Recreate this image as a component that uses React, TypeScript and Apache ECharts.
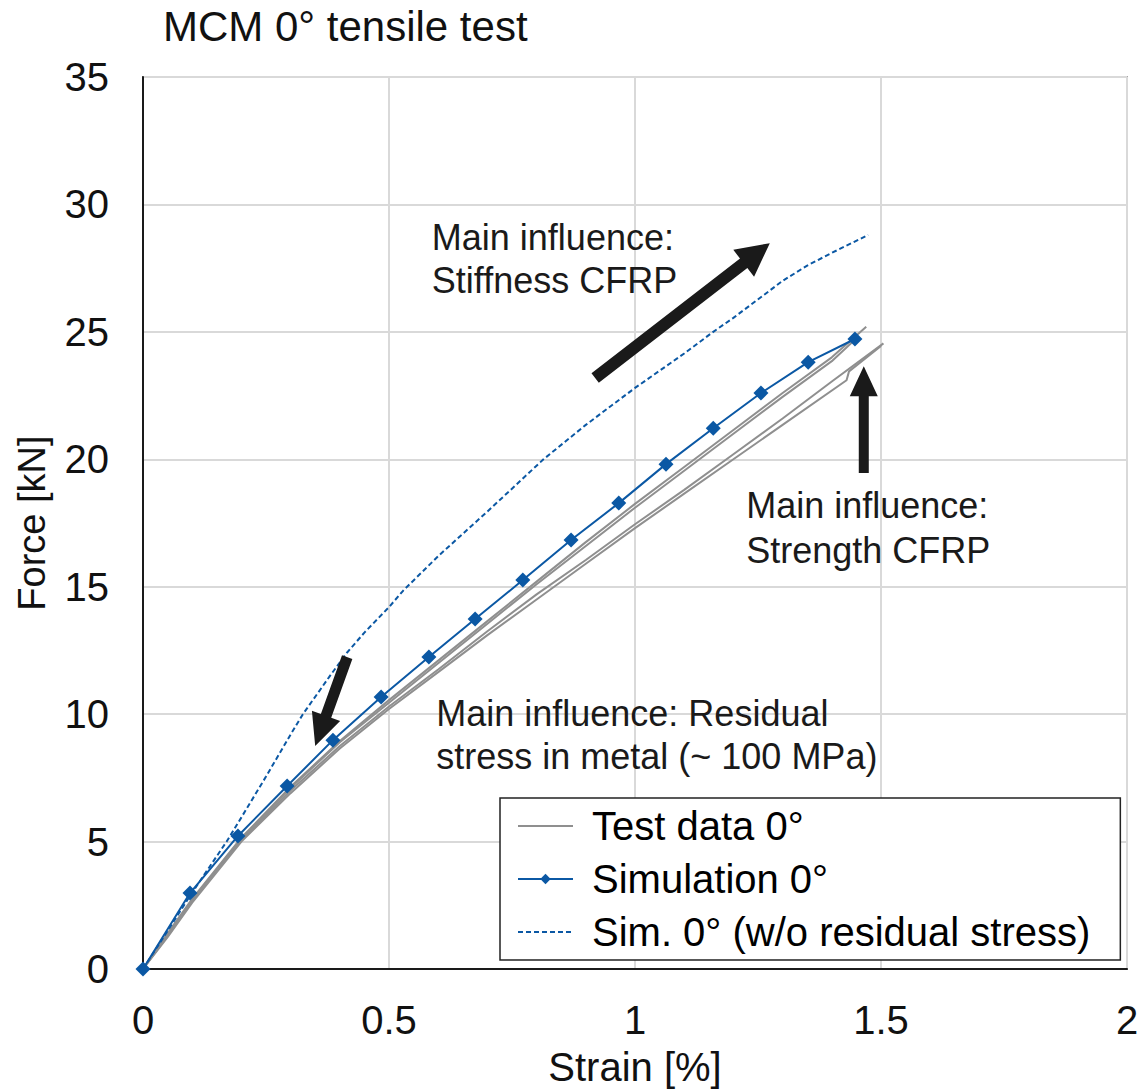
import React, { useEffect, useRef } from "react";
import * as echarts from "echarts";

const FONT = "'Liberation Sans', Arial, Helvetica, sans-serif";

const xTicks = [0, 0.5, 1, 1.5, 2];
const yTicks = [0, 5, 10, 15, 20, 25, 30, 35];

// Test data 0° (four specimens)
const testAx = [0, 0.05, 0.1, 0.2, 0.3, 0.4, 0.5, 0.6, 0.7, 0.8, 0.9, 1.0, 1.1, 1.2, 1.3, 1.4, 1.47];
const testAy = [0, 1.4, 2.75, 5.15, 7.15, 8.95, 10.55, 12.1, 13.65, 15.2, 16.75, 18.25, 19.7, 21.15, 22.6, 24.0, 25.2];
const testBx = [0, 0.05, 0.1, 0.2, 0.3, 0.4, 0.5, 0.6, 0.7, 0.8, 0.9, 1.0, 1.1, 1.2, 1.3, 1.4, 1.45];
const testBy = [0, 1.35, 2.7, 5.1, 7.1, 8.9, 10.45, 12.0, 13.55, 15.1, 16.6, 18.1, 19.55, 21.0, 22.45, 23.85, 24.75];
const testCx = [0, 0.05, 0.1, 0.2, 0.3, 0.4, 0.5, 0.6, 0.7, 0.8, 0.9, 1.0, 1.1, 1.2, 1.3, 1.4, 1.505];
const testCy = [0, 1.3, 2.65, 5.05, 7.0, 8.75, 10.3, 11.75, 13.25, 14.7, 16.05, 17.45, 18.8, 20.2, 21.6, 23.05, 24.55];
const testDx = [0, 0.05, 0.1, 0.2, 0.3, 0.4, 0.5, 0.6, 0.7, 0.8, 0.9, 1.0, 1.1, 1.2, 1.3, 1.43, 1.435, 1.5];
const testDy = [0, 1.25, 2.6, 5.0, 6.9, 8.65, 10.2, 11.65, 13.1, 14.5, 15.9, 17.3, 18.65, 20.0, 21.35, 23.1, 23.45, 24.45];

// Simulation 0°
const simX = [0, 0.0955, 0.193, 0.293, 0.386, 0.484, 0.581, 0.675, 0.772, 0.87, 0.967, 1.063, 1.159, 1.256, 1.352, 1.447];
const simY = [0, 2.98, 5.22, 7.18, 8.98, 10.67, 12.24, 13.73, 15.26, 16.83, 18.28, 19.81, 21.22, 22.6, 23.81, 24.72];

// Sim. 0° (w/o residual stress)
const noResX = [0, 0.1, 0.17, 0.2, 0.25, 0.3, 0.325, 0.38, 0.414, 0.45, 0.5, 0.529, 0.6, 0.7, 0.814, 0.9, 1.0, 1.1, 1.159, 1.2, 1.3, 1.35, 1.4, 1.474];
const noResY = [0, 3.0, 5.0, 5.95, 7.55, 9.2, 10.0, 11.5, 12.4, 13.2, 14.2, 14.85, 16.2, 17.95, 20.0, 21.35, 22.8, 24.15, 25.0, 25.55, 27.0, 27.6, 28.1, 28.8];

// Annotations (data coordinates)
const annotations = [
  { lines: ["Main influence:", "Stiffness CFRP"], x: 0.587, y: [28.72, 27.0] },
  { lines: ["Main influence:", "Strength CFRP"], x: 1.226, y: [18.2, 16.44] },
  { lines: ["Main influence: Residual", "stress in metal (~ 100 MPa)"], x: 0.596, y: [10.04, 8.32] },
];
const arrows = [
  { from: [0.919, 23.19], to: [1.274, 28.48], w: 12, hw: 34, hl: 33 },
  { from: [1.465, 19.46], to: [1.465, 23.65], w: 10, hw: 28, hl: 30 },
  { from: [0.415, 12.24], to: [0.35, 8.75], w: 11, hw: 30, hl: 32 },
];

const zip = (xs: number[], ys: number[]) => xs.map((x, i) => [x, ys[i]]);

const BLUE = "#0B58A4";
const GREY = "#8f8f8f";

export default function App() {
  const ref = useRef<HTMLDivElement>(null);
  useEffect(() => {
    if (!ref.current) return;
    const chart = echarts.init(ref.current, null, { renderer: "svg" });
    const testStyle = (c: string) => ({
      type: "line",
      name: "Test data 0°",
      showSymbol: false,
      symbol: "none",
      lineStyle: { color: c, width: 2 },
      itemStyle: { color: c },
      z: 2,
    });
    const option: any = {
      animation: false,
      backgroundColor: "#ffffff",
      textStyle: { fontFamily: FONT },
      title: {
        text: "MCM 0° tensile test",
        left: 158,
        top: 0,
        textStyle: { fontFamily: FONT, fontSize: 42, fontWeight: "normal", color: "#111" },
      },
      grid: {
        left: 143,
        top: 77,
        width: 984,
        height: 892,
        containLabel: false,
        outerBoundsMode: "none",
        show: true,
        borderColor: "#a6a6a6",
        borderWidth: 2,
      },
      legend: {
        orient: "vertical",
        left: 500,
        top: 798,
        padding: [8, 30, 8, 17],
        itemGap: 13,
        itemWidth: 55,
        itemHeight: 13,
        backgroundColor: "#ffffff",
        borderColor: "#222",
        borderWidth: 1.5,
        borderRadius: 0,
        textStyle: { fontFamily: FONT, fontSize: 40, color: "#000", padding: [0, 0, 0, 14], lineHeight: 40 },
        data: [
          { name: "Test data 0°", itemStyle: { opacity: 0 } },
          { name: "Simulation 0°" },
          { name: "Sim. 0° (w/o residual stress)", itemStyle: { opacity: 0 } },
        ],
      },
      xAxis: {
        type: "value",
        min: xTicks[0],
        max: xTicks[xTicks.length - 1],
        interval: 0.5,
        name: "Strain [%]",
        nameLocation: "middle",
        nameGap: 78,
        nameTextStyle: { fontFamily: FONT, fontSize: 40, color: "#111" },
        axisLine: { show: true, onZero: false, lineStyle: { color: "#1a1a1a", width: 2 } },
        axisTick: { show: false },
        axisLabel: {
          margin: 31,
          fontSize: 40,
          fontFamily: FONT,
          color: "#111",
          formatter: (v: number) => String(v),
        },
        splitLine: { show: true, lineStyle: { color: "#d9d9d9", width: 2 } },
      },
      yAxis: {
        type: "value",
        min: yTicks[0],
        max: yTicks[yTicks.length - 1],
        interval: 5,
        name: "Force [kN]",
        nameLocation: "middle",
        nameGap: 92,
        nameRotate: 90,
        nameTextStyle: { fontFamily: FONT, fontSize: 38, color: "#111" },
        axisLine: { show: true, onZero: false, lineStyle: { color: "#1a1a1a", width: 2 } },
        axisTick: { show: false },
        axisLabel: { margin: 34, fontSize: 40, fontFamily: FONT, color: "#111" },
        splitLine: { show: true, lineStyle: { color: "#d9d9d9", width: 2 } },
      },
      series: [
        { ...testStyle(GREY), data: zip(testAx, testAy) },
        { ...testStyle(GREY), data: zip(testBx, testBy) },
        { ...testStyle(GREY), data: zip(testCx, testCy) },
        { ...testStyle(GREY), data: zip(testDx, testDy) },
        {
          type: "line",
          name: "Simulation 0°",
          data: zip(simX, simY),
          symbol: "diamond",
          symbolSize: 15,
          showSymbol: true,
          lineStyle: { color: BLUE, width: 2 },
          itemStyle: { color: BLUE },
          z: 4,
        },
        {
          type: "line",
          name: "Sim. 0° (w/o residual stress)",
          data: zip(noResX, noResY),
          symbol: "none",
          showSymbol: false,
          lineStyle: { color: BLUE, width: 2, type: [5, 3] },
          itemStyle: { color: BLUE },
          z: 3,
        },
      ],
    };
    chart.setOption(option);

    const graphics: any[] = [];
    annotations.forEach((a) => {
      a.lines.forEach((t, i) => {
        const p = chart.convertToPixel({ gridIndex: 0 }, [a.x, a.y[i]]) as number[];
        graphics.push({
          type: "text",
          x: p[0],
          y: p[1],
          z: 10,
          style: {
            text: t,
            fontFamily: FONT,
            fontSize: 36,
            fill: "#1a1a1a",
            textAlign: "left",
            textVerticalAlign: "middle",
            verticalAlign: "middle",
          },
        });
      });
    });
    arrows.forEach((ar) => {
      const p0 = chart.convertToPixel({ gridIndex: 0 }, ar.from) as number[];
      const p1 = chart.convertToPixel({ gridIndex: 0 }, ar.to) as number[];
      const dx = p1[0] - p0[0];
      const dy = p1[1] - p0[1];
      const len = Math.sqrt(dx * dx + dy * dy);
      const ux = dx / len;
      const uy = dy / len;
      const nx = -uy;
      const ny = ux;
      const bx = p1[0] - ux * ar.hl;
      const by = p1[1] - uy * ar.hl;
      const pts = [
        [p0[0] + (nx * ar.w) / 2, p0[1] + (ny * ar.w) / 2],
        [bx + (nx * ar.w) / 2, by + (ny * ar.w) / 2],
        [bx + (nx * ar.hw) / 2, by + (ny * ar.hw) / 2],
        [p1[0], p1[1]],
        [bx - (nx * ar.hw) / 2, by - (ny * ar.hw) / 2],
        [bx - (nx * ar.w) / 2, by - (ny * ar.w) / 2],
        [p0[0] - (nx * ar.w) / 2, p0[1] - (ny * ar.w) / 2],
      ];
      graphics.push({
        type: "polygon",
        z: 10,
        shape: { points: pts },
        style: { fill: "#1a1a1a" },
      });
    });
    chart.setOption({ graphic: graphics });

    return () => chart.dispose();
  }, []);
  return (
    <div
      ref={ref}
      style={{ position: "fixed", left: 0, top: 0, width: 1139, height: 1089, background: "#fff" }}
    />
  );
}
